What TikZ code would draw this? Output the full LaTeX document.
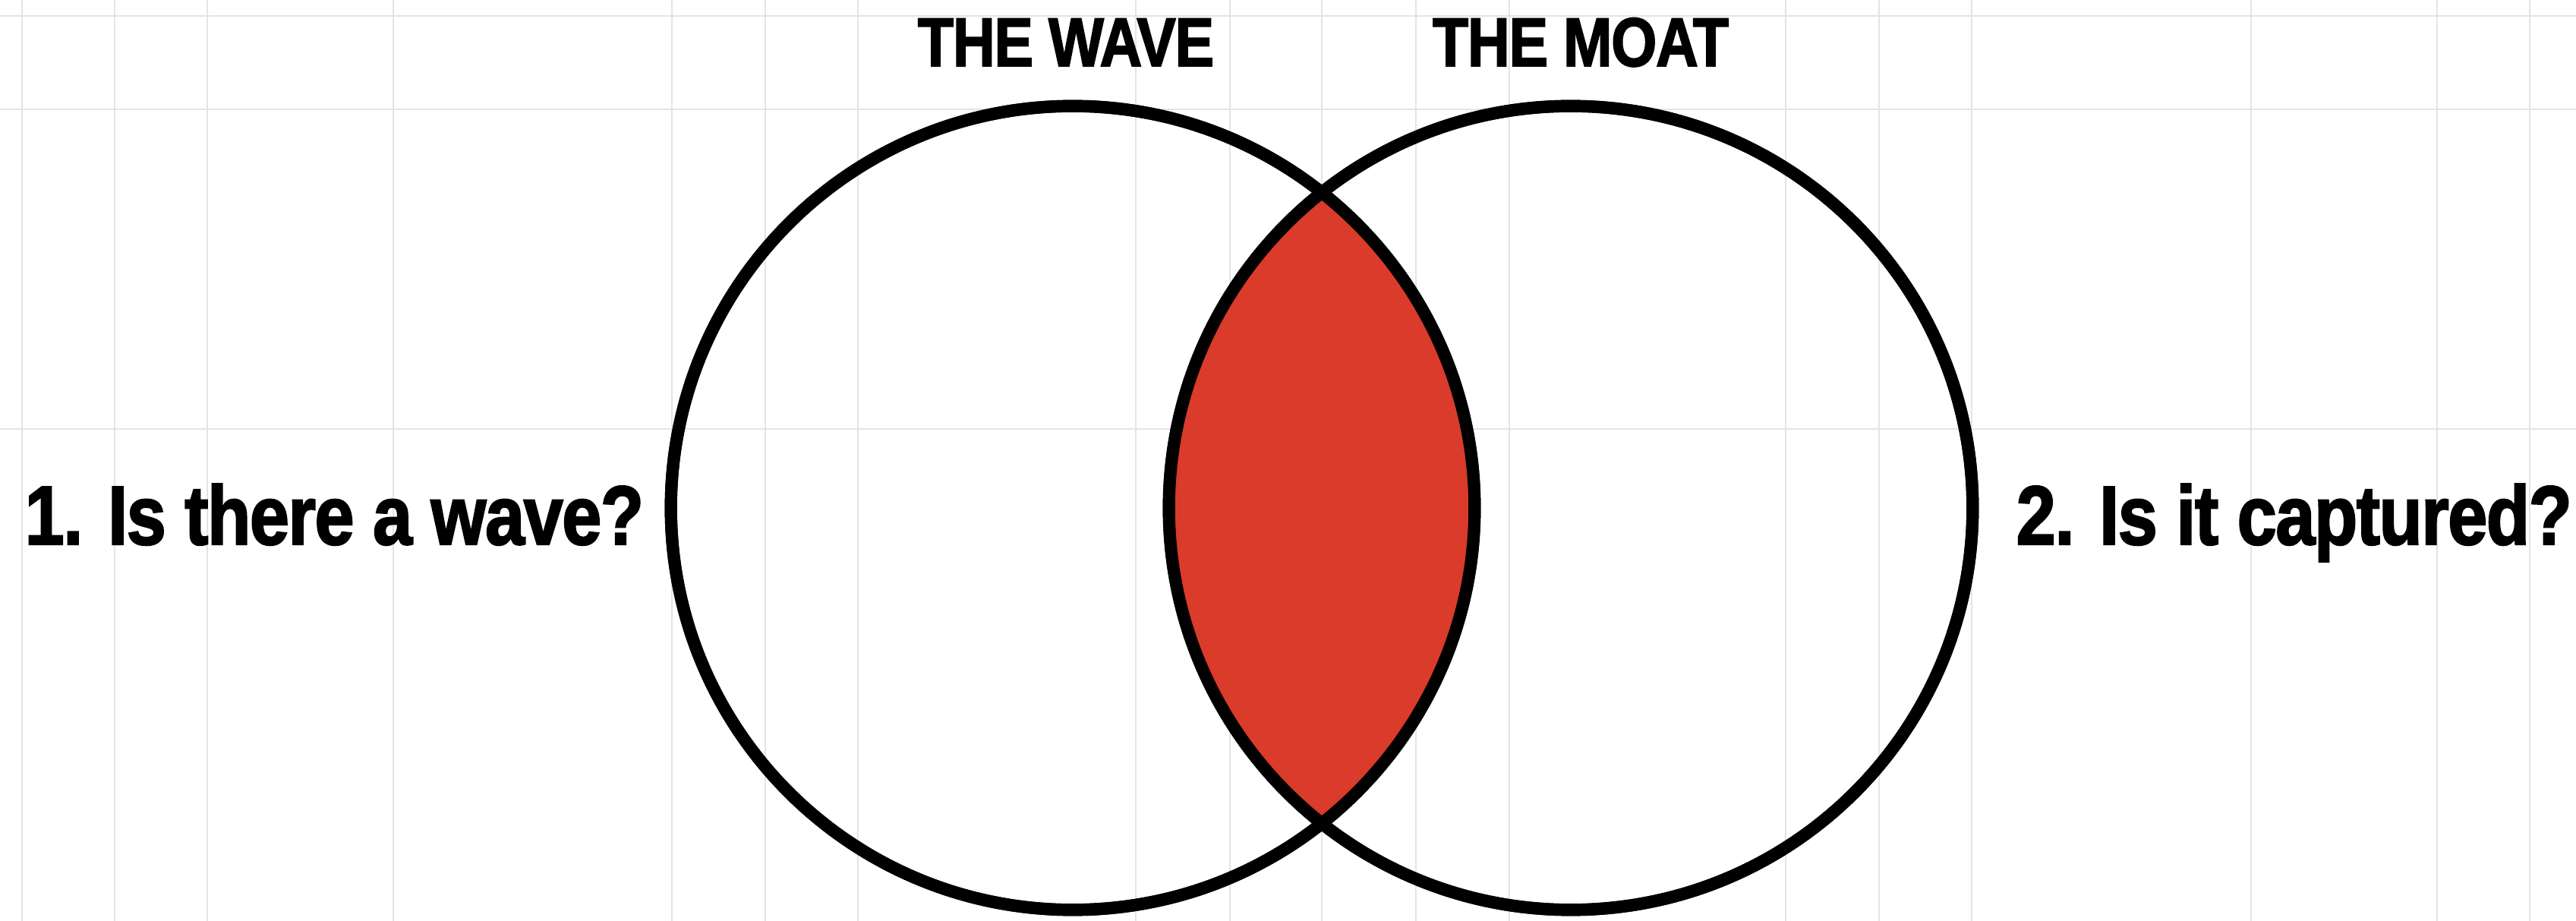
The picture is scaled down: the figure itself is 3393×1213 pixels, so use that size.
\documentclass[tikz,border=0pt]{standalone}
\usepackage{fontspec}
\usepackage{graphicx}
\newfontfamily\lblfont{Liberation Sans}[BoldFeatures={FakeBold=2.2}, LetterSpace=-1.5]
\definecolor{lensred}{RGB}{218,59,42}
\definecolor{gridgray}{RGB}{228,228,228}
\newcommand{\cond}[1]{\scalebox{0.85}[1]{#1}}
\tikzset{
  gridline/.style={draw=gridgray, line width=0.8pt},
  vcirc/.style={circle, draw=black, line width=4.6pt, minimum size=10.58cm, inner sep=0pt},
  qlabel/.style={inner sep=0pt, anchor=base west, font=\lblfont\bfseries\fontsize{31.3pt}{36pt}\selectfont},
  tlabel/.style={inner sep=0pt, anchor=base, font=\lblfont\bfseries\fontsize{25.8pt}{30pt}\selectfont},
}
\begin{document}
\begin{tikzpicture}[x=0.01cm, y=-0.01cm]
  \fill[white] (0,0) rectangle (3393,1213);
  \useasboundingbox (0,0) rectangle (3393,1213);
  % grid
  \foreach \gx in {29,151,273,518,885,1008,1130,1496,1620,1741,1865,1988,2352,2475,2597,2965,3210,3332}
    \draw[gridline] (\gx,0) -- (\gx,1213);
  \foreach \gy in {21,144,565}
    \draw[gridline] (0,\gy) -- (3393,\gy);
  % circles (nodes)
  \node[vcirc] (wave) at (1413,669) {};
  \node[vcirc] (moat) at (2069,669) {};
  % lens
  \begin{scope}
    \clip (wave.center) circle[radius=5.29cm];
    \fill[lensred] (moat.center) circle[radius=5.29cm];
  \end{scope}
  \node[vcirc] at (wave.center) {};
  \node[vcirc] at (moat.center) {};
  % labels
  \node[tlabel] (twave) at (1404,87) {\cond{THE WAVE}};
  \node[tlabel] (tmoat) at (2082,87) {\cond{THE MOAT}};
  \node[qlabel] (q1) at (32,717) {\cond{1. Is there a wave?}};
  \node[qlabel] (q2) at (2655,717) {\cond{2. Is it captured?}};
\end{tikzpicture}
\end{document}
